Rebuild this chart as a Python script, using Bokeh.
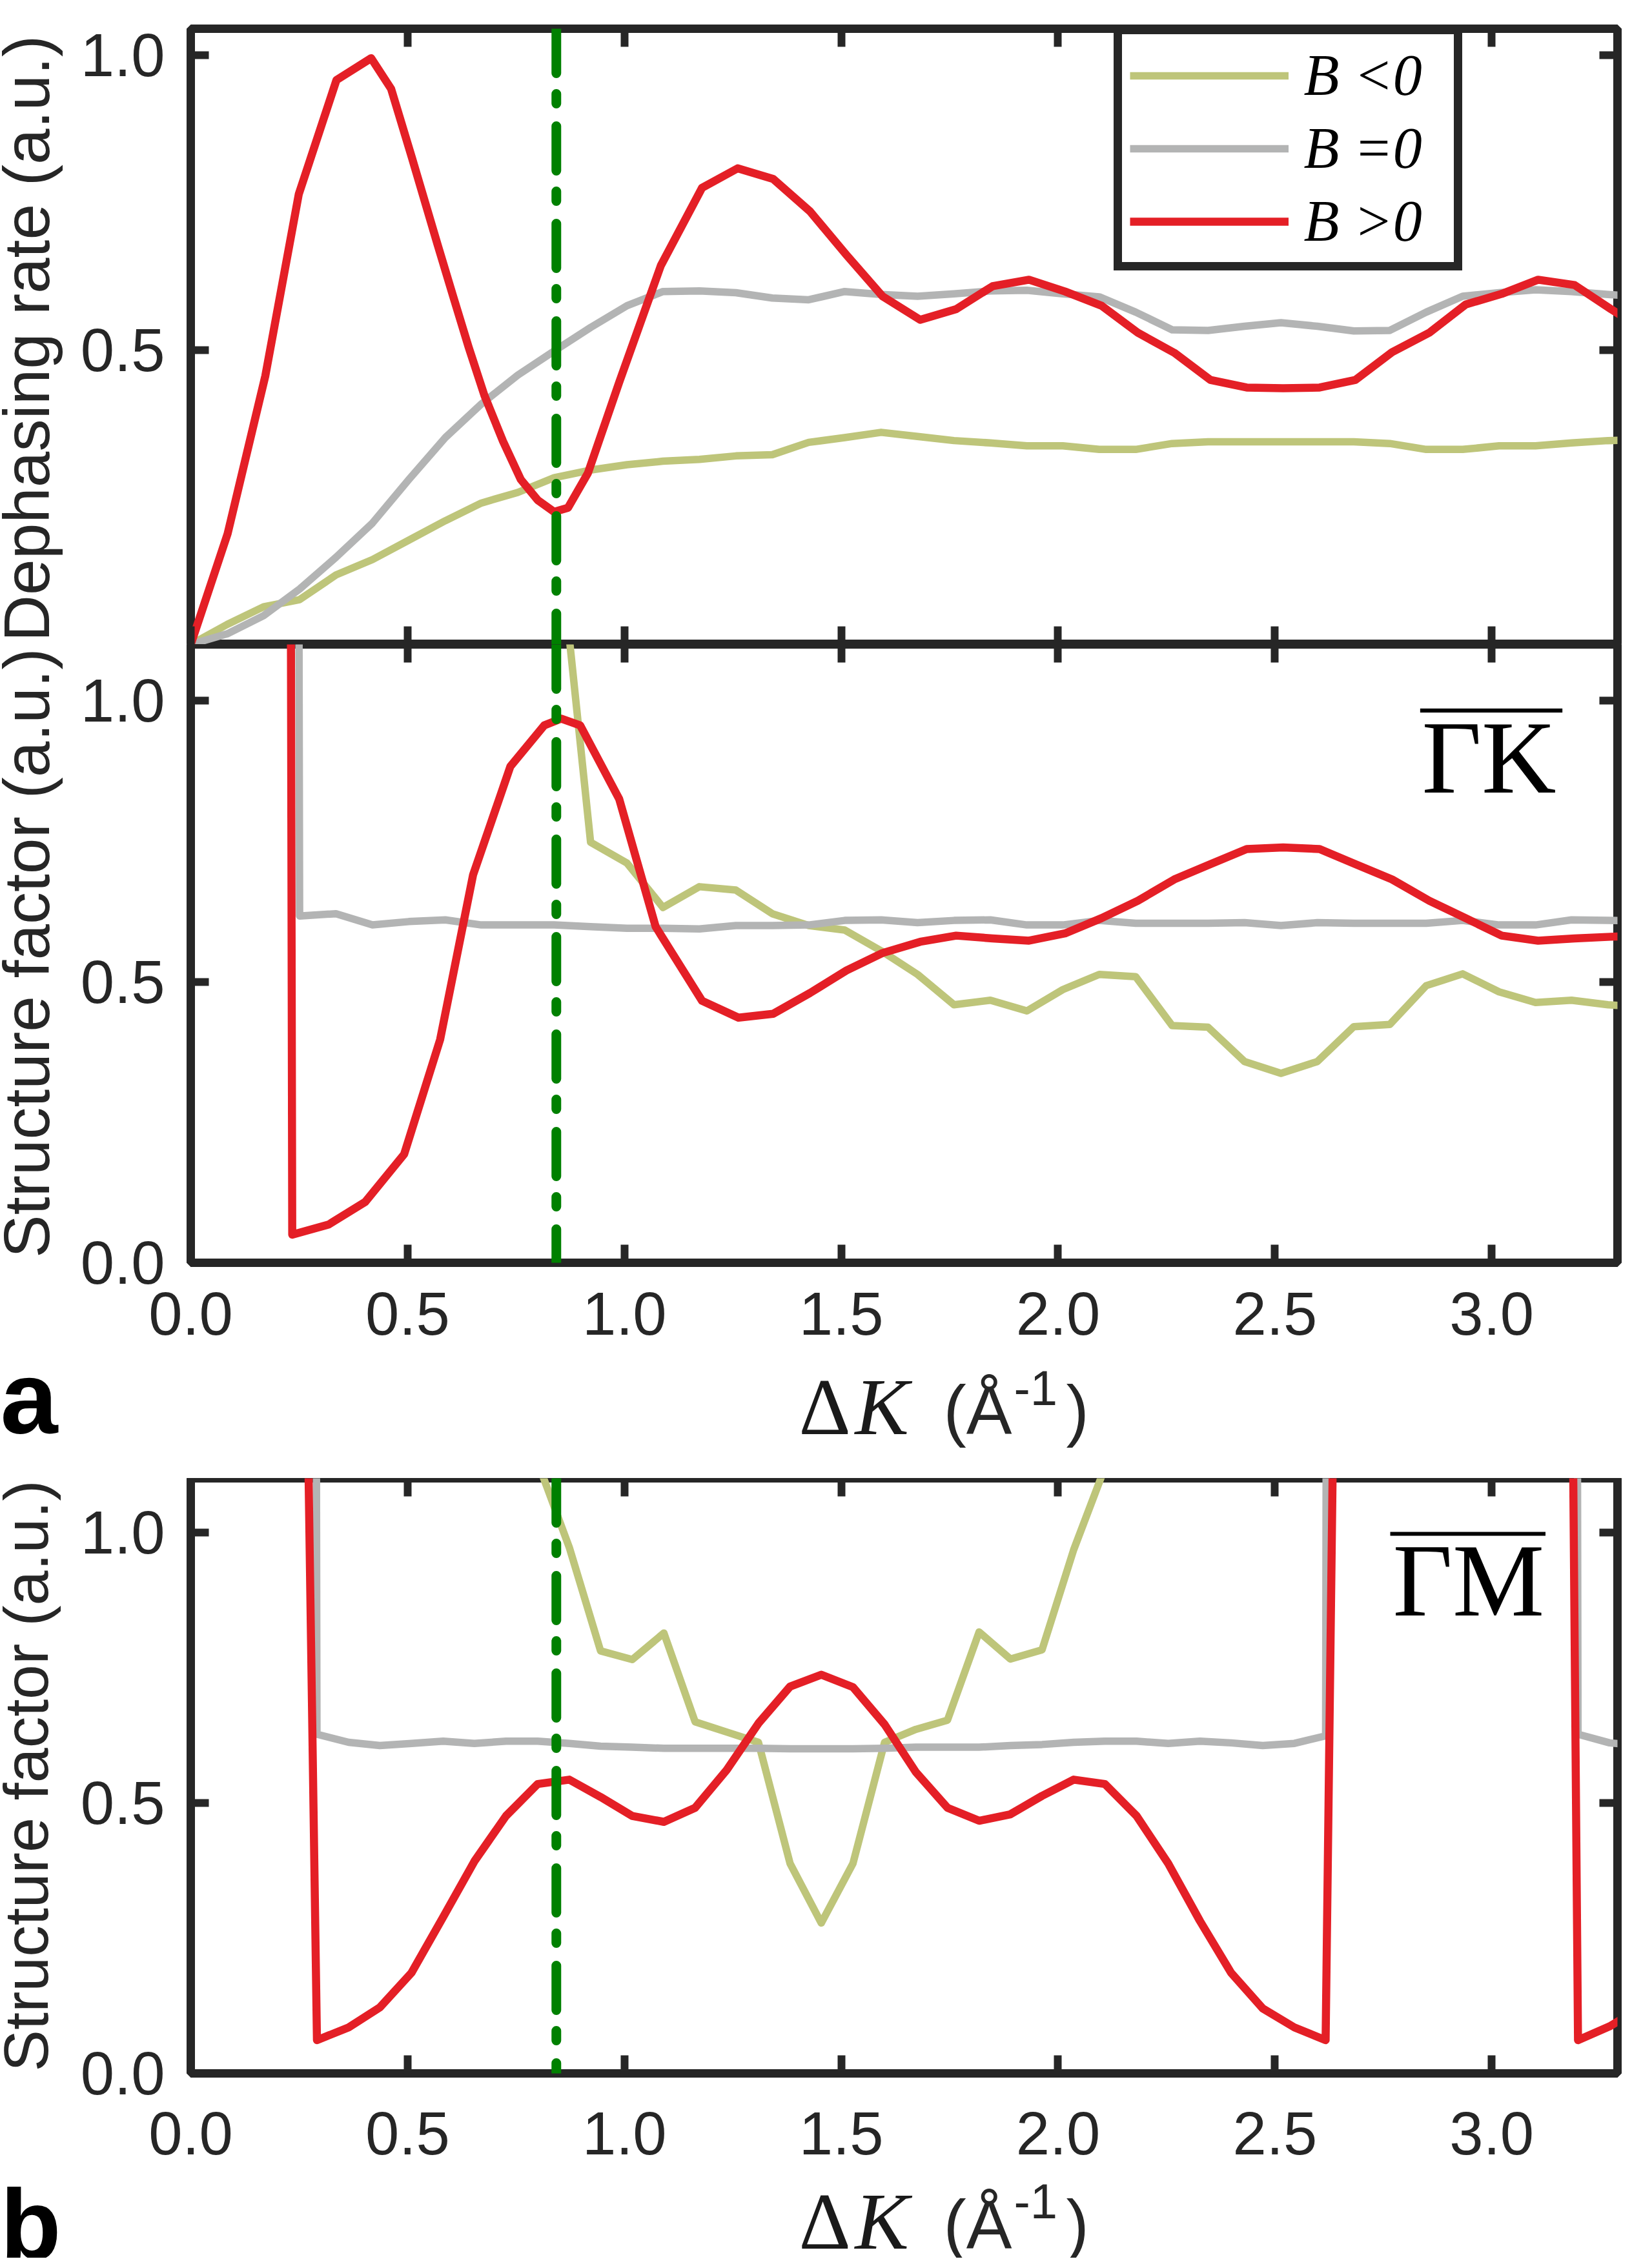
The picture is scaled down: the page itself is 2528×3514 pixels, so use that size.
import numpy as np
from bokeh.plotting import figure
from bokeh.models import (Range1d, LinearAxis, FixedTicker, PrintfTickFormatter, Span, Label,
                          Legend, LegendItem, BoxAnnotation)
from bokeh.layouts import column, row
from bokeh.embed import file_html
from bokeh.resources import INLINE

# ---------------- data ----------------
# common Delta-K grid of the GK direction
k_top = [0.000, 0.084, 0.168, 0.251, 0.335, 0.419, 0.503, 0.587, 0.670, 0.754, 0.838, 0.922,
         1.006, 1.089, 1.173, 1.257, 1.341, 1.425, 1.508, 1.592, 1.676, 1.760, 1.844, 1.928,
         2.011, 2.095, 2.179, 2.263, 2.346, 2.430, 2.514, 2.598, 2.682, 2.765, 2.849, 2.933,
         3.017, 3.101, 3.184, 3.268, 3.352]

# panel a (top): dephasing rate
rate_neg = [0.000, 0.034, 0.064, 0.076, 0.118, 0.144, 0.177, 0.210, 0.240, 0.258, 0.283, 0.296,
            0.305, 0.311, 0.314, 0.320, 0.322, 0.343, 0.351, 0.360, 0.353, 0.346, 0.342, 0.337,
            0.337, 0.331, 0.331, 0.341, 0.344, 0.344, 0.344, 0.344, 0.344, 0.341, 0.331, 0.331,
            0.337, 0.337, 0.342, 0.346, 0.348]
rate_zero = [0.000, 0.018, 0.049, 0.094, 0.148, 0.206, 0.280, 0.351, 0.408, 0.457, 0.498, 0.538,
             0.575, 0.599, 0.600, 0.597, 0.588, 0.585, 0.599, 0.594, 0.591, 0.595, 0.600, 0.601,
             0.595, 0.590, 0.564, 0.534, 0.533, 0.540, 0.546, 0.540, 0.532, 0.533, 0.564, 0.591,
             0.597, 0.602, 0.599, 0.594, 0.590]
k_rate_pos = [0.000, 0.085, 0.172, 0.249, 0.336, 0.416, 0.462, 0.510, 0.569, 0.605, 0.641, 0.677,
              0.720, 0.761, 0.800, 0.838, 0.870, 0.916, 0.988, 1.084, 1.179, 1.261, 1.343, 1.428,
              1.512, 1.595, 1.682, 1.765, 1.849, 1.933, 2.016, 2.100, 2.184, 2.268, 2.351, 2.435,
              2.519, 2.603, 2.686, 2.770, 2.856, 2.940, 3.023, 3.107, 3.191, 3.275, 3.360]
rate_pos = [0.000, 0.188, 0.456, 0.764, 0.958, 0.995, 0.943, 0.826, 0.679, 0.591, 0.504, 0.423,
            0.345, 0.280, 0.245, 0.225, 0.232, 0.291, 0.445, 0.643, 0.775, 0.808, 0.790, 0.735,
            0.661, 0.591, 0.551, 0.569, 0.608, 0.619, 0.599, 0.575, 0.529, 0.495, 0.449, 0.436,
            0.435, 0.436, 0.449, 0.496, 0.529, 0.577, 0.595, 0.619, 0.610, 0.569, 0.530]

# panel a (middle): structure factor along GK
sfk_neg = [None] * 10 + [1.37, 0.748, 0.711, 0.632, 0.669, 0.663, 0.621, 0.600, 0.592, 0.555,
                         0.513, 0.459, 0.467, 0.448, 0.486, 0.513, 0.509, 0.422, 0.419, 0.358,
                         0.337, 0.358, 0.420, 0.424, 0.493, 0.514, 0.482, 0.463, 0.467, 0.459,
                         0.455]
sfk_zero = [None, None, 30.0, 0.617, 0.621, 0.601, 0.607, 0.610, 0.601, 0.601, 0.601, 0.598,
            0.595, 0.595, 0.594, 0.600, 0.600, 0.601, 0.609, 0.610, 0.605, 0.609, 0.610, 0.601,
            0.601, 0.609, 0.604, 0.604, 0.604, 0.605, 0.600, 0.605, 0.604, 0.604, 0.604, 0.609,
            0.601, 0.601, 0.610, 0.609, 0.608]
k_sfk_pos = [0.150, 0.234, 0.318, 0.402, 0.492, 0.575, 0.651, 0.737, 0.815, 0.854, 0.898, 0.988,
             1.072, 1.179, 1.263, 1.343, 1.428, 1.512, 1.595, 1.682, 1.765, 1.849, 1.933, 2.016,
             2.100, 2.184, 2.268, 2.351, 2.435, 2.519, 2.603, 2.686, 2.770, 2.856, 2.940, 3.023,
             3.107, 3.191, 3.275, 3.360]
sfk_pos = [30.0, 0.050, 0.068, 0.108, 0.193, 0.397, 0.690, 0.883, 0.956, 0.968, 0.956, 0.825,
           0.598, 0.466, 0.436, 0.443, 0.480, 0.520, 0.551, 0.571, 0.582, 0.577, 0.573, 0.586,
           0.613, 0.644, 0.682, 0.709, 0.736, 0.739, 0.736, 0.709, 0.682, 0.644, 0.613, 0.582,
           0.573, 0.577, 0.580, 0.582]

# panel b: structure factor along GM
k_gm = [0.218, 0.291, 0.364, 0.436, 0.509, 0.582, 0.654, 0.727, 0.800, 0.873, 0.945, 1.018,
        1.091, 1.163, 1.236, 1.309, 1.382, 1.454, 1.527, 1.600, 1.672, 1.745, 1.818, 1.890,
        1.963, 2.036, 2.108, 2.181, 2.254, 2.327, 2.399, 2.472, 2.545, 2.617, 2.690, 2.763,
        2.835, 2.908, 2.981, 3.054, 3.126, 3.199, 3.272, 3.345]
sfm_neg = [None] * 7 + [1.6, 1.13, 0.972, 0.781, 0.765, 0.814, 0.650, 0.631, 0.612, 0.388, 0.278,
                        0.388, 0.612, 0.636, 0.653, 0.816, 0.766, 0.783, 0.968, 1.12, 1.6] + [None] * 16
sfm_zero = [30.0, 0.627, 0.612, 0.606, 0.610, 0.614, 0.610, 0.614, 0.614, 0.610, 0.605, 0.603,
            0.601, 0.601, 0.601, 0.601, 0.600, 0.600, 0.600, 0.601, 0.603, 0.603, 0.603, 0.606,
            0.608, 0.612, 0.614, 0.614, 0.610, 0.614, 0.611, 0.606, 0.610, 0.624, 30.0,
            None, None, None, None, None, 30.0, 0.627, 0.611, 0.606]
sfm_pos = [4.0, 0.0615, 0.085, 0.122, 0.186, 0.289, 0.392, 0.476, 0.535, 0.543, 0.511, 0.476,
           0.465, 0.491, 0.561, 0.647, 0.715, 0.737, 0.714, 0.645, 0.557, 0.491, 0.467, 0.479,
           0.513, 0.543, 0.535, 0.476, 0.388, 0.282, 0.186, 0.120, 0.085, 0.0615, 4.8,
           None, None, None, None, None, 7.0, 0.0615, 0.087, 0.122]

k_marker = 0.843
x_ticks = [0.0, 0.5, 1.0, 1.5, 2.0, 2.5, 3.0]
legend_labels = ["B <0", "B =0", "B >0"]

# ---------------- style ----------------
DARK = "#262626"
C_NEG = "#bec57a"
C_ZERO = "#b3b4b4"
C_POS = "#e41f26"
C_MARK = "#008000"
SANS = "Liberation Sans"
SERIF = "Liberation Serif"
X_END = 3.29
LEFT_W = 110          # width of the strip holding the rotated y titles
MAIN_W = 2402         # width of each plot canvas


def arr(v):
    return np.array([np.nan if a is None else a for a in v], dtype=float)


def style_axis(ax, ticks, show_labels, standoff=0):
    ax.ticker = FixedTicker(ticks=ticks)
    ax.formatter = PrintfTickFormatter(format="%.1f")
    ax.axis_line_color = None
    ax.major_tick_in = 28
    ax.major_tick_out = 0
    ax.minor_tick_in = 0
    ax.minor_tick_out = 0
    ax.minor_tick_line_color = None
    ax.major_tick_line_color = DARK
    ax.major_tick_line_width = 12
    if show_labels:
        ax.major_label_text_font = SANS
        ax.major_label_text_font_size = "94px"
        ax.major_label_text_color = DARK
        ax.major_label_standoff = standoff
    else:
        ax.major_label_text_color = None
        ax.major_label_text_font_size = "1px"
        ax.major_label_standoff = 0


def make_fig(frame_h, top_b, bottom_b, y_end, y_ticks, x_labels, x_standoff):
    p = figure(frame_width=2210, frame_height=frame_h, output_backend="svg", toolbar_location=None,
               x_range=Range1d(0.0, X_END), y_range=Range1d(0.0, y_end),
               min_border_left=MAIN_W - 2210 - 7, min_border_right=7, min_border_top=top_b,
               min_border_bottom=bottom_b)
    p.grid.visible = False
    p.outline_line_color = DARK
    p.outline_line_width = 13
    p.background_fill_color = "white"
    p.border_fill_color = "white"
    style_axis(p.xaxis[0], x_ticks, x_labels, x_standoff)
    style_axis(p.yaxis[0], y_ticks, True, 40)
    top_ax = LinearAxis()
    style_axis(top_ax, x_ticks, False)
    p.add_layout(top_ax, "above")
    right_ax = LinearAxis()
    style_axis(right_ax, y_ticks, False)
    p.add_layout(right_ax, "right")
    p.add_layout(Span(location=k_marker, dimension="height", line_color=C_MARK, line_width=15,
                      line_dash="69 32 15 35", line_cap="round"))
    return p


def strip(w, h, y_span=None):
    # y_span: height of the frame that this strip gets aligned to inside a row
    s = figure(width=w, height=h, output_backend="svg", toolbar_location=None,
               x_range=Range1d(0, w), y_range=Range1d(0, h if y_span is None else y_span),
               x_axis_type=None, y_axis_type=None,
               min_border_left=0, min_border_right=0, min_border_top=0, min_border_bottom=0)
    s.outline_line_color = None
    s.background_fill_color = "white"
    s.border_fill_color = "white"
    return s


def label(p, text, x, y, size, font=SANS, style="normal", angle=0.0, color=DARK, align="left"):
    p.add_layout(Label(x=x, y=y, text=text, text_font=font, text_font_size=f"{size}px",
                       text_font_style=style, angle=angle, text_align=align,
                       text_baseline="middle", text_color=color))


def xlabel(s, y, y_sup):
    label(s, "Δ", 1237, y, 125, font=SERIF, color="#1a1a1a")
    label(s, "K", 1324, y, 125, font=SERIF, style="italic", color="#1a1a1a")
    label(s, "(Å", 1461, y - 4, 106, font=SANS)
    label(s, "-1", 1570, y_sup, 76, font=SANS)
    label(s, ")", 1651, y - 4, 106, font=SANS)


F1, F2, F3 = 954, 958, 922
H1, H2, HA, H3, HB = F1 + 44, F2 + 153, 181, F3 + 167, 119

# ---------------- panel a, top ----------------
p1 = make_fig(F1, 44, 0, 1.045, [0.5, 1.0], False, 0)
r1n = p1.line(k_top, rate_neg, line_color=C_NEG, line_width=11.5, line_join="round")
r1z = p1.line(k_top, rate_zero, line_color=C_ZERO, line_width=11.5, line_join="round")
r1p = p1.line(k_rate_pos, rate_pos, line_color=C_POS, line_width=12.5, line_join="round")
legend = Legend(items=[LegendItem(label=legend_labels[0], renderers=[r1n]),
                       LegendItem(label=legend_labels[1], renderers=[r1z]),
                       LegendItem(label=legend_labels[2], renderers=[r1p])],
                location=(1429.5, 579), glyph_width=246, glyph_height=100, label_height=100,
                label_width=220, label_standoff=24, padding=12, spacing=10, margin=0,
                border_line_color=DARK, border_line_width=13, border_line_alpha=1.0,
                background_fill_color="white", background_fill_alpha=1.0,
                label_text_font=SERIF, label_text_font_style="italic",
                label_text_font_size="90px", label_text_color="black")
p1.add_layout(legend)
y1 = strip(LEFT_W, H1, F1)
label(y1, "Dephasing rate (a.u.)", 40, 474, 100, angle=np.pi / 2, align="center")

# ---------------- panel a, structure factor GK ----------------
p2 = make_fig(F2, 0, 153, 1.1, [0.0, 0.5, 1.0], True, 46)
p2.line(k_top, arr(sfk_neg), line_color=C_NEG, line_width=11.5, line_join="round")
p2.line(k_top, arr(sfk_zero), line_color=C_ZERO, line_width=11.5, line_join="round")
p2.line(k_sfk_pos, sfk_pos, line_color=C_POS, line_width=12.5, line_join="round")
label(p2, "ΓK", 2.839, 0.898, 160, font=SERIF, color="black")
p2.add_layout(BoxAnnotation(left=2.835, right=3.163, bottom=0.979, top=0.986,
                            fill_color="black", fill_alpha=1.0, line_color=None))
y2 = strip(LEFT_W, H2, F2)
label(y2, "Structure factor (a.u.)", 40, 480, 100, angle=np.pi / 2, align="center")

xa = strip(LEFT_W + MAIN_W, HA)
xlabel(xa, 111, 140)
label(xa, "a", 0, 126, 160, style="bold", color="black")

# ---------------- panel b, structure factor GM ----------------
p3 = make_fig(F3, 0, 167, 1.1, [0.0, 0.5, 1.0], True, 60)
p3.line(k_gm, arr(sfm_neg), line_color=C_NEG, line_width=11.5, line_join="round")
p3.line(k_gm, arr(sfm_zero), line_color=C_ZERO, line_width=11.5, line_join="round")
p3.line(k_gm, arr(sfm_pos), line_color=C_POS, line_width=12.5, line_join="round")
label(p3, "ΓM", 2.772, 0.9106, 160, font=SERIF, color="black")
p3.add_layout(BoxAnnotation(left=2.766, right=3.124, bottom=0.9938, top=1.001,
                            fill_color="black", fill_alpha=1.0, line_color=None))
y3 = strip(LEFT_W, H3, F3)
label(y3, "Structure factor (a.u.)", 40, 461, 97, angle=np.pi / 2, align="center")

xb = strip(LEFT_W + MAIN_W, HB)
xlabel(xb, 57, 88)
label(xb, "b", 0, 52, 154, style="bold", color="black")

layout = column(row(y1, p1, spacing=0), row(y2, p2, spacing=0), xa,
                row(y3, p3, spacing=0), xb, spacing=0)
open("out.html", "w").write(file_html(layout, INLINE))
